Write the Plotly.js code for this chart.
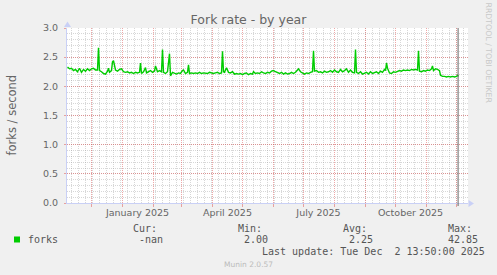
<!DOCTYPE html>
<html><head><meta charset="utf-8">
<script src="https://cdn.plot.ly/plotly-3.0.1.min.js"></script>
<style>html,body{margin:0;padding:0;background:#f0f0f0;}#c{width:497px;height:275px;}</style>
</head><body><div id="c"></div>
<script>
// ---- data (day offsets from 2025-01-01, forks per second) ----
const dayOffsets = [
 -55,-53,-51,-49,-47,-45,-43,-41,-39,-37,-35,-33,-31,-29,-27,-25,-24,-23,-21,-19,-17,-15,-14,-13,-11,-10,-9,-8,-7,-5,-3,-1,1,
 3,5,7,9,11,13,15,17,18,19,21,23,24,26,28,30,32,33,35,37,39,40,41,43,45,47,48,50,52,54,56,58,60,61,63,65,66,67,
 69,71,73,75,77,79,81,83,85,87,89,91,93,95,97,99,100,101,102,104,106,108,110,112,114,116,118,120,122,124,126,128,130,131,133,
 135,137,139,141,143,145,147,149,151,153,155,157,159,161,163,165,167,169,171,173,175,176,178,180,182,184,186,188,190,191,192,194,196,198,200,202,204,206,208,210,212,214,216,218,220,222,224,226,228,230,232,233,234,
 236,238,240,242,244,246,248,250,252,254,256,258,260,262,263,264,265,267,269,271,273,275,277,279,281,283,285,287,289,291,293,295,296,297,299,301,303,305,307,309,310,311,313,315,317,318,320,322,324,326,328,330,332,334,335,336
];
const forks = [
 2.33,2.30,2.31,2.27,2.29,2.25,2.31,2.24,2.29,2.26,2.30,2.27,2.30,2.31,2.28,2.28,2.66,2.27,2.25,2.22,2.21,2.26,2.31,2.24,2.27,2.42,2.44,2.33,2.28,2.26,2.29,2.30,2.25,
 2.24,2.25,2.23,2.24,2.22,2.24,2.23,2.24,2.40,2.22,2.25,2.32,2.23,2.25,2.27,2.24,2.26,2.35,2.25,2.27,2.25,2.63,2.24,2.22,2.25,2.56,2.18,2.24,2.22,2.21,2.23,2.22,2.27,2.28,2.22,2.24,2.37,2.22,
 2.23,2.22,2.23,2.22,2.24,2.22,2.23,2.23,2.22,2.24,2.23,2.22,2.23,2.24,2.22,2.23,2.60,2.25,2.24,2.32,2.24,2.23,2.25,2.21,2.22,2.21,2.22,2.20,2.22,2.23,2.20,2.22,2.21,2.25,2.22,
 2.23,2.22,2.25,2.23,2.22,2.24,2.23,2.26,2.27,2.25,2.23,2.22,2.24,2.21,2.23,2.21,2.22,2.24,2.22,2.24,2.28,2.30,2.25,2.23,2.21,2.23,2.22,2.24,2.25,2.61,2.26,2.27,2.24,2.25,2.23,2.26,2.24,2.25,2.27,2.24,2.28,2.25,2.24,2.29,2.25,2.27,2.30,2.24,2.28,2.24,2.23,2.63,2.24,
 2.22,2.25,2.21,2.23,2.24,2.21,2.25,2.22,2.23,2.25,2.22,2.26,2.24,2.29,2.27,2.40,2.31,2.23,2.22,2.25,2.24,2.26,2.27,2.26,2.28,2.27,2.28,2.27,2.29,2.28,2.29,2.28,2.61,2.26,2.25,2.27,2.26,2.28,2.27,2.30,2.35,2.27,2.30,2.29,2.27,2.19,2.17,2.17,2.16,2.17,2.16,2.17,2.16,2.17,2.19,2.17
];
const baseDate = '2025-01-01';
const xRange = ['2024-11-06 12:00', '2025-12-12 12:00'];
const lastUpdate = '2025-12-02 13:50';
const firstMonthGrid = [2024, 11];   // year, month index (0-based) of first month gridline: Dec 2024
const monthGridCount = 13;
const firstWeekGrid = '2024-11-11';  // a Monday
const weekGridCount = 57;
const monthLabelDates = ['2025-01-16', '2025-04-16', '2025-07-16', '2025-10-16'];
const monthLabels = ['January 2025', 'April 2025', 'July 2025', 'October 2025'];
const yTickValues = [0, 0.5, 1.0, 1.5, 2.0, 2.5, 3.0];
const seriesName = 'forks';
const legendHeads = ['Cur:', 'Min:', 'Avg:', 'Max:'];
const legendValues = ['-nan', '2.00', '2.25', '42.85'];
const titleText = 'Fork rate - by year';
const yTitle = 'forks / second';
const lastUpdateText = 'Last update: Tue Dec\u00a0 2 13:50:00 2025';
const sideText = 'RRDTOOL / TOBI OETIKER';
const footerText = 'Munin 2.0.57';

// ---- build ----
const DAY = 86400000;
const iso = t => new Date(t).toISOString().slice(0, 10);
const b = Date.parse(baseDate + 'T00:00:00Z');
const dates = dayOffsets.map(d => iso(b + d * DAY));
const monthGrid = [];
for (let i = 0; i < monthGridCount; i++) monthGrid.push(iso(Date.UTC(firstMonthGrid[0], firstMonthGrid[1] + i, 1)));
const w0 = Date.parse(firstWeekGrid + 'T00:00:00Z');
const weekGrid = [];
for (let i = 0; i < weekGridCount; i++) weekGrid.push(iso(w0 + i * 7 * DAY));

const L = 67, R = 468, T = 28, B = 203;
const px = x => (x - L) / (R - L);
const py = y => (B - y) / (B - T);

const MGRID = 'rgba(222,79,79,0.5)';
const GRID = 'rgba(150,150,150,0.38)';
const AXIS = '#c9d0f6';
const FONT = '#666666';

const trace = {
  x: dates, y: forks, type: 'scatter', mode: 'lines', name: seriesName,
  line: {color: '#00cc00', width: 1.4}, hoverinfo: 'skip', xaxis: 'x', yaxis: 'y'
};
const labelTrace = {x: [xRange[0]], y: [null], xaxis: 'x2', yaxis: 'y', type: 'scatter', mode: 'lines', showlegend: false, hoverinfo: 'skip'};

const ann = [];
function txt(text, x, y, opts) {
  ann.push(Object.assign({text, x: px(x), y: py(y), xref: 'paper', yref: 'paper', showarrow: false,
    xanchor: 'left', yanchor: 'middle', borderpad: 0,
    font: {family: 'DejaVu Sans Mono', size: 10, color: '#555'}}, opts || {}));
}
const headX = [131.7, 236.7, 341.7, 446.7];
const valX = [137.7, 242.7, 348.3, 446.7];
legendHeads.forEach((h, i) => txt(h, headX[i], 228.5));
legendValues.forEach((v, i) => txt(v, valX[i], 239.5));
txt(seriesName, 26.5, 239.5);
txt(lastUpdateText, 261, 251);
txt(footerText, 248, 264.5, {xanchor: 'center', font: {family: 'DejaVu Sans', size: 7.5, color: '#bbbbbb'}});
txt(yTitle, 11, 115.5, {xanchor: 'center', textangle: -90, font: {family: 'DejaVu Sans', size: 11.5, color: FONT}});
txt(sideText, 488.5, 53, {xanchor: 'center', textangle: 90, font: {family: 'DejaVu Sans', size: 7.8, color: '#c8c8c8'}});

const shapes = [
  {type: 'rect', xref: 'paper', yref: 'paper', x0: px(14), x1: px(20), y0: py(242.5), y1: py(236.5),
   fillcolor: '#00cc00', line: {width: 0}},
  {type: 'line', xref: 'x', yref: 'paper', x0: lastUpdate, x1: lastUpdate, y0: py(206), y1: 1,
   line: {color: '#666666', width: 1}, layer: 'above'},
  {type: 'path', xref: 'paper', yref: 'paper', layer: 'above',
   path: `M${px(64)},${py(27)} L${px(67.5)},${py(21.5)} L${px(71)},${py(27)} Z`,
   fillcolor: AXIS, line: {width: 0}},
  {type: 'path', xref: 'paper', yref: 'paper', layer: 'above',
   path: `M${px(468.5)},${py(200)} L${px(474)},${py(203.5)} L${px(468.5)},${py(207)} Z`,
   fillcolor: AXIS, line: {width: 0}}
];

const layout = {
  width: 497, height: 275,
  margin: {l: L, r: 497 - R, t: T, b: 275 - B, pad: 0},
  paper_bgcolor: '#f0f0f0', plot_bgcolor: '#ffffff',
  showlegend: false,
  title: {text: titleText, x: 0.5, xref: 'container', xanchor: 'center', y: 1 - 19.5 / 275, yref: 'container', yanchor: 'middle',
          font: {family: 'DejaVu Sans', size: 12.5, color: FONT}},
  xaxis: {
    type: 'date', range: xRange, tickmode: 'array', tickvals: monthGrid,
    showticklabels: false, ticks: 'outside', ticklen: 3, tickcolor: MGRID, tickwidth: 1,
    showgrid: true, gridcolor: MGRID, griddash: '1px,1px', gridwidth: 1,
    minor: {tickmode: 'array', tickvals: weekGrid, showgrid: true, gridcolor: GRID, griddash: '1px,1px', ticks: ''},
    showline: true, linecolor: AXIS, linewidth: 1, zeroline: false, fixedrange: true
  },
  xaxis2: {
    type: 'date', range: xRange, overlaying: 'x', anchor: 'y', side: 'bottom',
    tickmode: 'array', tickvals: monthLabelDates, ticktext: monthLabels,
    ticks: '', showgrid: false, showline: false, zeroline: false,
    tickfont: {family: 'DejaVu Sans', size: 9.5, color: FONT}, ticklabelstandoff: 2
  },
  yaxis: {
    range: [0, 3], tickmode: 'array', tickvals: yTickValues, tickformat: '.1f',
    ticks: 'outside', ticklen: 2, tickcolor: MGRID, ticklabelstandoff: 4,
    showgrid: true, gridcolor: MGRID, griddash: '1px,1px', gridwidth: 1,
    minor: {dtick: 0.1, showgrid: true, gridcolor: GRID, griddash: '1px,1px', ticks: ''},
    showline: true, linecolor: AXIS, linewidth: 1, zeroline: false,
    tickfont: {family: 'DejaVu Sans', size: 9.5, color: FONT}, fixedrange: true
  },
  annotations: ann,
  shapes: shapes
};

Plotly.newPlot('c', [trace, labelTrace], layout, {displayModeBar: false, staticPlot: true});
</script>
</body></html>
